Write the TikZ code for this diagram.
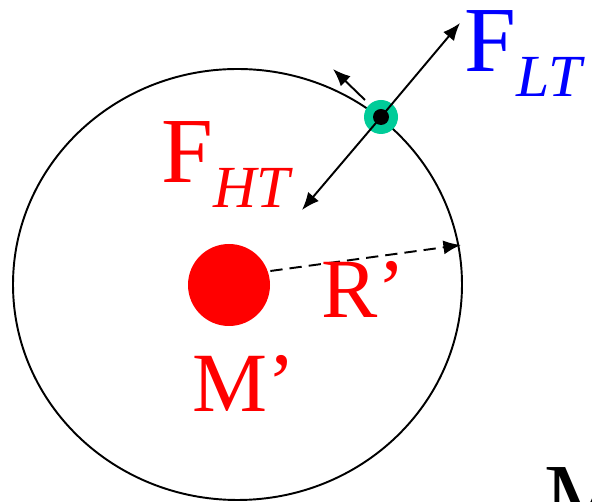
\documentclass[tikz,border=0pt]{standalone}
\usepackage{fontspec}
\setmainfont{Liberation Serif}
\usepackage{xcolor}
\usetikzlibrary{calc, positioning}
\usetikzlibrary{arrows.meta}

\definecolor{ringgreen}{RGB}{0,204,153}

\begin{document}
\begin{tikzpicture}[x=0.02cm,y=-0.02cm,
    force/.style={line width=1.1pt,-{Latex[length=10pt,width=8pt]}},
    lab/.style={anchor=base west,inner sep=0pt}]
\clip (0,0) rectangle (592,502);

\coordinate (Ocenter) at (237.5,284.5);
\coordinate (Pcenter) at (381,117);
\coordinate (LTtip) at (460,23);
\coordinate (HTtip) at (302,210);
\coordinate (Ttail) at (365,100);
\coordinate (Ttip) at (333,69);
\coordinate (Redge) at (461,245);

% Orbit and the central mass
\draw[line width=1.1pt] (Ocenter) ellipse [x radius=224.5, y radius=215.5];
\node[circle,fill=red,inner sep=0pt,minimum size=82*0.02cm] (mass) at (229,285) {};

% Test body on the orbit
\node[circle,fill=ringgreen,inner sep=0pt,minimum size=34*0.02cm] (ring) at (Pcenter) {};

% Forces and radius
\draw[force] (ring.center) -- (LTtip);
\draw[force] (ring.center) -- (HTtip);
\draw[force] (Ttail) -- (Ttip);
\draw[force,dashed,dash pattern=on 7pt off 4pt] (mass.east |- 0,271) -- (Redge);
\node[circle,fill=black,inner sep=0pt,minimum size=16*0.02cm] (body) at (Pcenter) {};

% Labels
\node[lab,text=blue,font=\fontsize{53}{53}\selectfont] (FLT) at (464,72)
    {F\raisebox{-14pt}{\fontsize{34}{34}\selectfont\itshape LT}};
\node[lab,text=red,font=\fontsize{53}{53}\selectfont] (FHT) at (161,183)
    {F\raisebox{-14pt}{\fontsize{34}{34}\selectfont\itshape HT}};
\node[lab,text=red,font=\fontsize{48}{48}\selectfont] (Rp) at (321,318) {R’};
\node[lab,text=red,font=\fontsize{48}{48}\selectfont] (Mp) at (192,412) {M’};
\node[lab,font=\fontsize{53}{53}\selectfont] (M) at (544,529) {M};
\end{tikzpicture}
\end{document}
